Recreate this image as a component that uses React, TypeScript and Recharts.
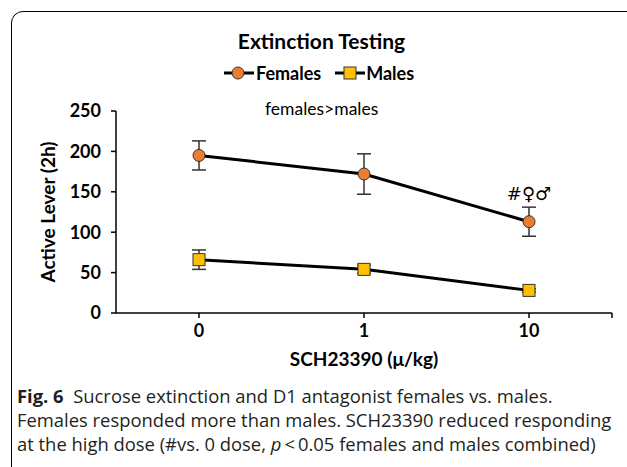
import React from 'react';
import { LineChart, Line, XAxis, YAxis, ErrorBar, Label, ReferenceDot, usePlotArea } from 'recharts';

const doses = ['0', '1', '10'];
const femalesMean = [195, 172, 113];
const femalesSem = [18, 25, 18];
const malesMean = [66, 54, 28];
const malesSem = [12, 5, 2];
const yTicks = [0, 50, 100, 150, 200, 250];

const data = doses.map((dose, i) => ({
  dose,
  females: femalesMean[i],
  femalesErr: femalesSem[i],
  males: malesMean[i],
  malesErr: malesSem[i],
}));

const ORANGE = '#ed7d31';
const YELLOW = '#ffc000';
const chartFont = 'Lato, "Open Sans", sans-serif';

const SquareDot = (props: any) => {
  const { cx, cy } = props;
  if (cx == null || cy == null) return null;
  return <rect x={cx - 6} y={cy - 6} width={12} height={12} fill={YELLOW} stroke="#333" strokeWidth={1} />;
};

// small closing tick at the right end of the x axis
const EndTick = () => {
  const area = usePlotArea();
  if (!area) return null;
  const x = area.x + area.width;
  const y = area.y + area.height;
  return <line x1={x} y1={y} x2={x} y2={y + 5} stroke="#000" strokeWidth={1.5} />;
};

export default function App() {
  return (
    <div style={{ position: 'absolute', left: 0, top: 0, width: 627, height: 467, background: '#fff', overflow: 'hidden', fontFamily: chartFont }}>
      <div style={{ position: 'absolute', left: 11, top: 11, width: 660, height: 480, border: '1.5px solid #000', borderRadius: 12 }} />

      <div style={{ position: 'absolute', left: 0, width: 643, top: 28, textAlign: 'center', fontSize: 21, fontWeight: 700, color: '#000' }}>
        Extinction Testing
      </div>

      <div style={{ position: 'absolute', left: 224, top: 62, display: 'flex', alignItems: 'center', fontSize: 18, fontWeight: 700, color: '#000' }}>
        <svg width={30} height={20}>
          <line x1={0} y1={10} x2={30} y2={10} stroke="#000" strokeWidth={3} />
          <circle cx={14} cy={10} r={6} fill={ORANGE} stroke="#333" strokeWidth={1} />
        </svg>
        <span style={{ marginLeft: 2 }}>Females</span>
        <svg width={30} height={20} style={{ marginLeft: 14 }}>
          <line x1={0} y1={10} x2={30} y2={10} stroke="#000" strokeWidth={3} />
          <rect x={9} y={4} width={12} height={12} fill={YELLOW} stroke="#333" strokeWidth={1} />
        </svg>
        <span style={{ marginLeft: 1 }}>Males</span>
      </div>

      <div style={{ position: 'absolute', left: 265, top: 98, fontSize: 17.5, color: '#000' }}>females&gt;males</div>

      <LineChart width={627} height={467} data={data} margin={{ top: 111, right: 15, bottom: 94, left: 30 }} style={{ position: 'absolute', left: 0, top: 0 }}>
        <XAxis
          dataKey="dose"
          height={60}
          padding={{ left: 83, right: 83 }}
          stroke="#000"
          strokeWidth={1.5}
          tickSize={5}
          tickMargin={6}
          tick={{ fill: '#000', fontSize: 18, fontWeight: 700, fontFamily: chartFont }}
        >
          <Label value="SCH23390 (μ/kg)" position="insideBottom" offset={7} style={{ fill: '#000', fontSize: 19, fontWeight: 700, fontFamily: chartFont }} />
        </XAxis>
        <YAxis
          width={86}
          domain={[0, 250]}
          ticks={yTicks}
          stroke="#000"
          strokeWidth={1.5}
          tickSize={5}
          tickMargin={10}
          tick={{ fill: '#000', fontSize: 18, fontWeight: 700, fontFamily: chartFont }}
        >
          <Label value="Active Lever (2h)" angle={-90} position="insideLeft" offset={18} style={{ textAnchor: 'middle', fill: '#000', fontSize: 19, fontWeight: 700, fontFamily: chartFont }} />
        </YAxis>
        <Line
          dataKey="females"
          stroke="#000"
          strokeWidth={3}
          dot={{ r: 6, fill: ORANGE, stroke: '#333', strokeWidth: 1 }}
          activeDot={false}
          isAnimationActive={false}
        >
          <ErrorBar dataKey="femalesErr" width={7} stroke="#333" strokeWidth={1.5} isAnimationActive={false} />
        </Line>
        <Line
          dataKey="males"
          stroke="#000"
          strokeWidth={3}
          dot={<SquareDot />}
          activeDot={false}
          isAnimationActive={false}
        >
          <ErrorBar dataKey="malesErr" width={7} stroke="#333" strokeWidth={1.5} isAnimationActive={false} />
        </Line>
        <ReferenceDot
          x={doses[2]}
          y={femalesMean[2] + femalesSem[2]}
          r={0}
          stroke="none"
          label={{ value: '#♀♂', position: 'top', offset: 7, fill: '#000', fontSize: 18, fontFamily: '"DejaVu Sans", sans-serif' }}
        />
        <EndTick />
      </LineChart>

      <div style={{ position: 'absolute', left: 17, top: 384, width: 615, fontFamily: '"Open Sans", sans-serif', fontSize: 18.4, lineHeight: '24px', color: '#231f20', whiteSpace: 'nowrap' }}>
        <b>Fig. 6</b>&nbsp; Sucrose extinction and D1 antagonist females vs. males.<br />
        Females responded more than males. SCH23390 reduced responding<br />
        at the high dose (#vs. 0 dose, <i>p</i>&thinsp;&lt;&thinsp;0.05 females and males combined)
      </div>
    </div>
  );
}
